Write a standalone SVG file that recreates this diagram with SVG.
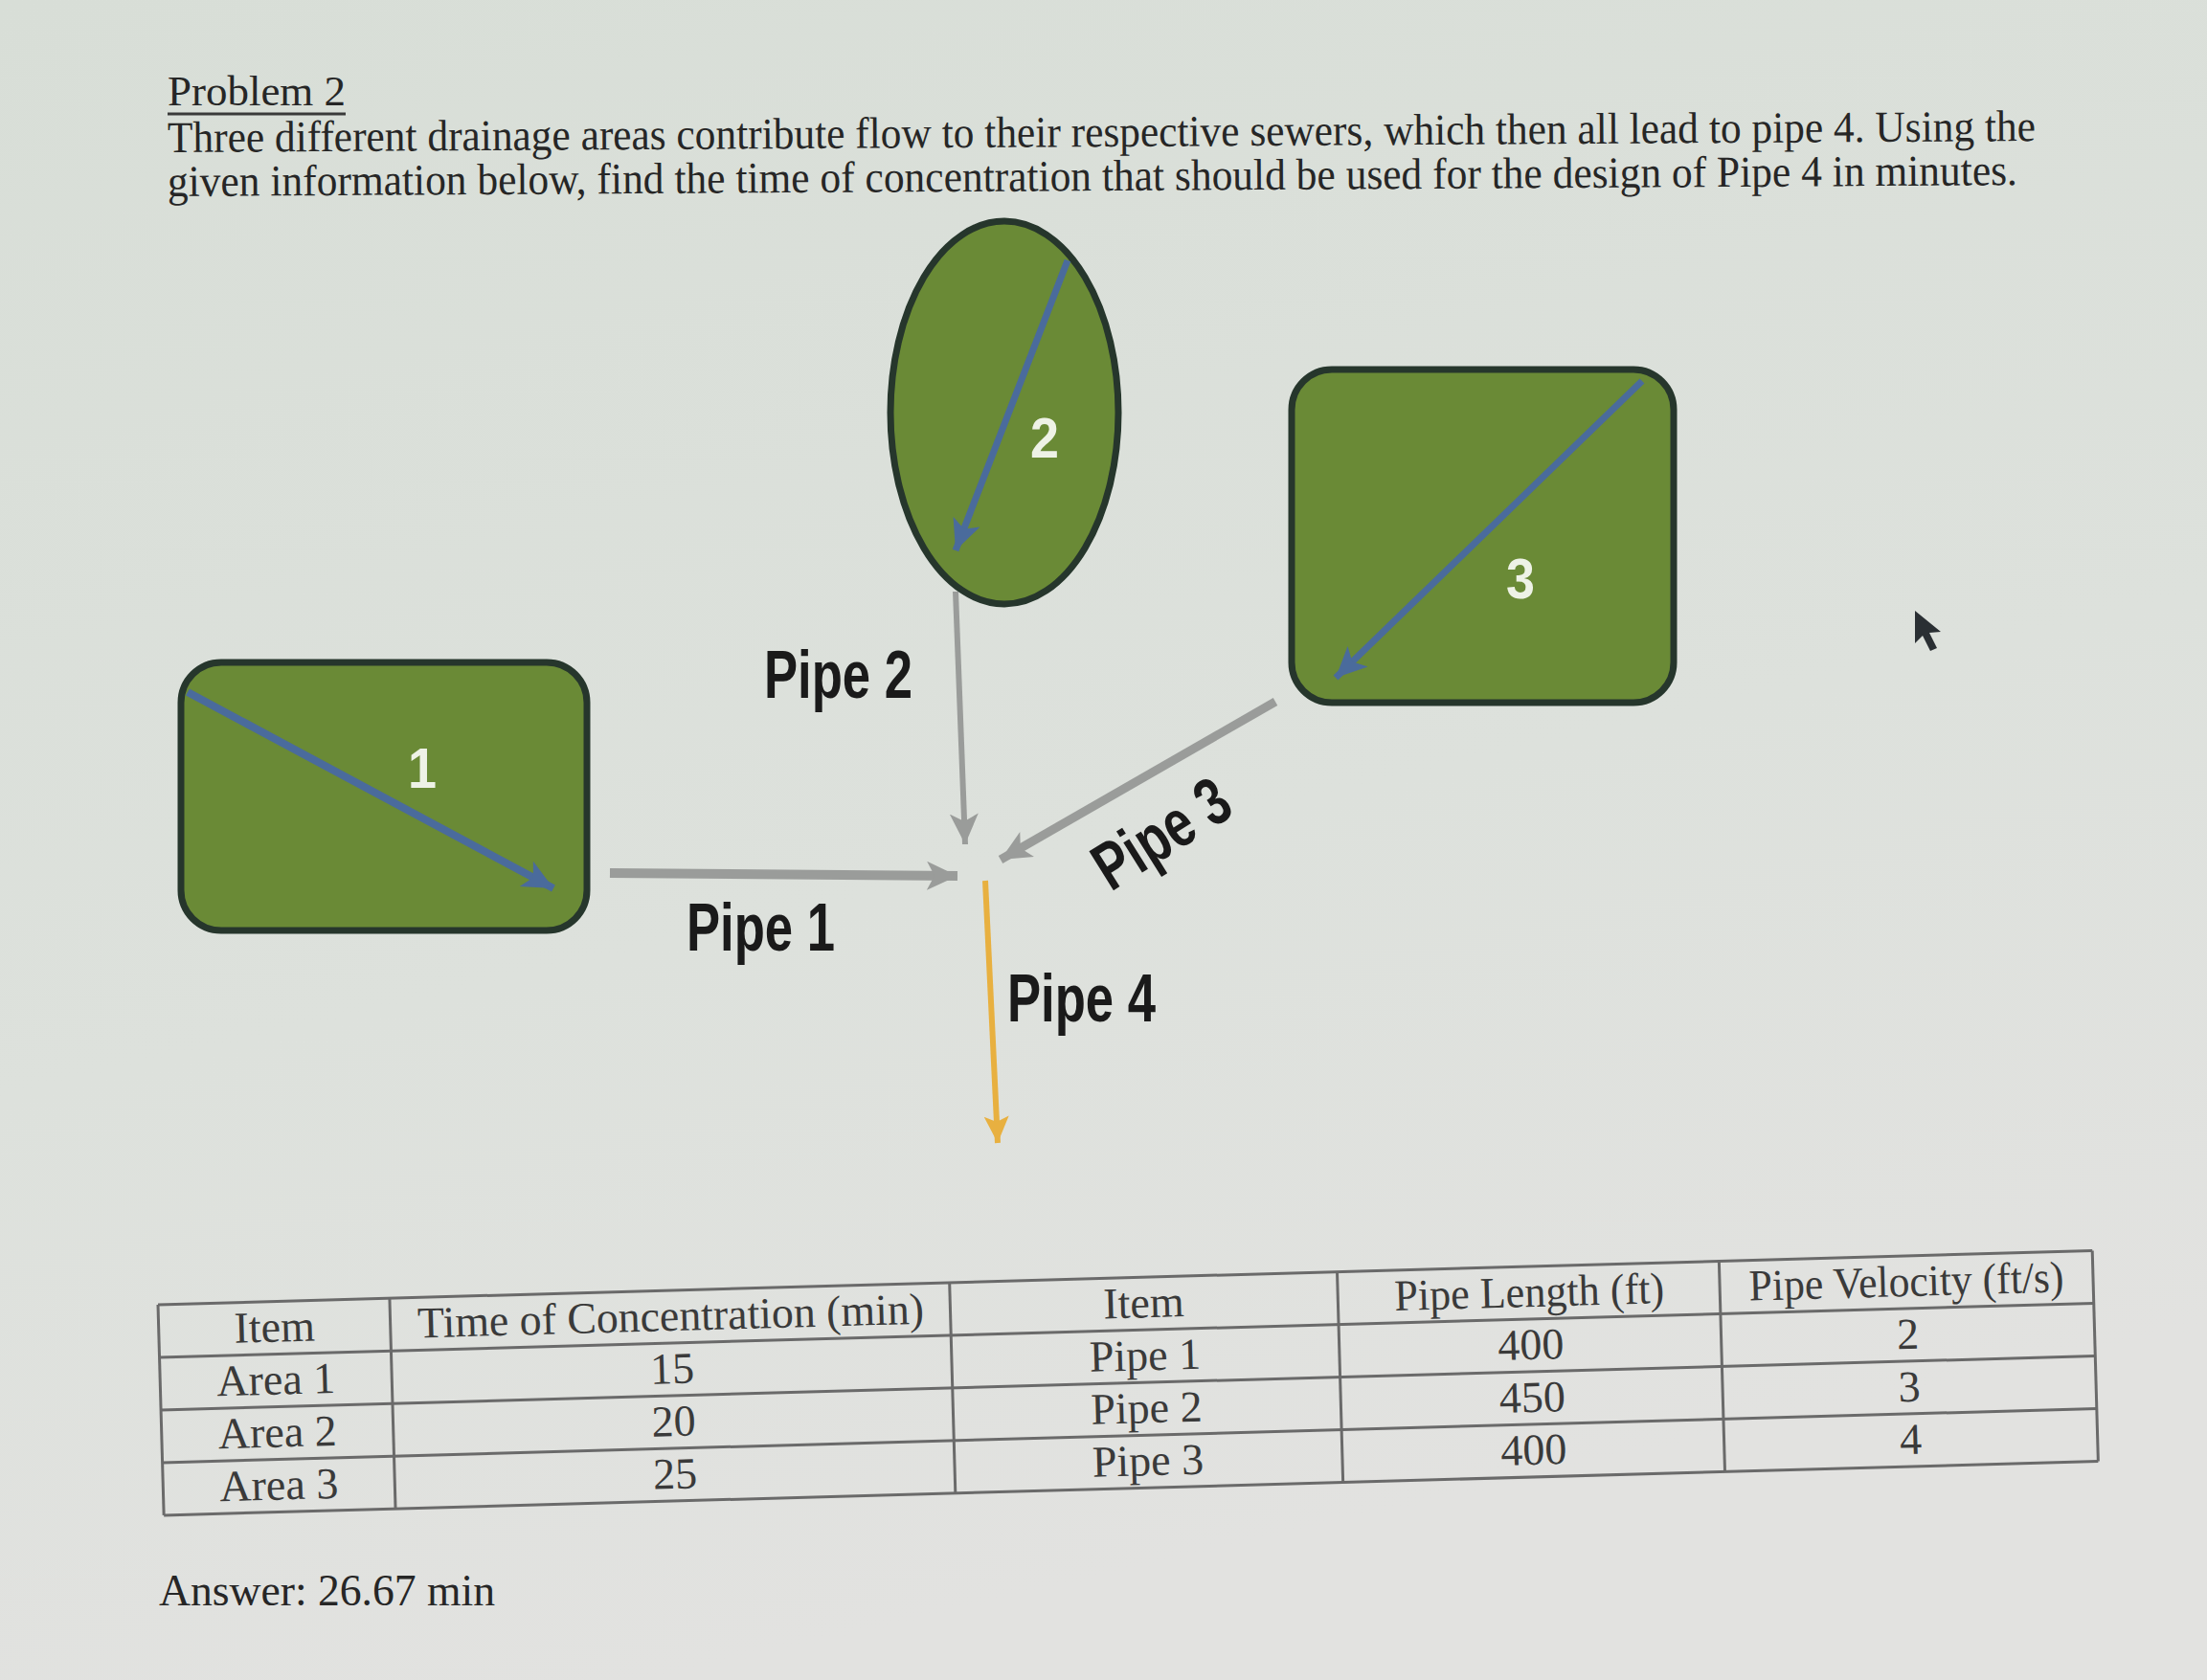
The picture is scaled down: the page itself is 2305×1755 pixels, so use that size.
<svg xmlns="http://www.w3.org/2000/svg" width="2305" height="1755" viewBox="0 0 2305 1755">
<style>
.serif{font-family:"Liberation Serif","Times New Roman",serif;fill:#262626}
.lbl{font-family:"Liberation Sans",Arial,sans-serif;fill:#1a1a1a;font-size:70px;font-weight:bold}
.num{font-family:"Liberation Sans",Arial,sans-serif;fill:#eef2e6;font-size:60px;font-weight:bold;text-anchor:middle}
.area{fill:#6a8a36;stroke:#26362c;stroke-width:7}
.tbl line{stroke:#6a6a6a;stroke-width:3}
.tt{font-family:"Liberation Serif","Times New Roman",serif;fill:#3a3a3a;font-size:46px;text-anchor:middle}
</style>
<defs>
<linearGradient id="bg" x1="0" y1="0" x2="0.3" y2="1">
<stop offset="0" stop-color="#d8ded7"/>
<stop offset="0.6" stop-color="#dde1dc"/>
<stop offset="1" stop-color="#e2e2e0"/>
</linearGradient>
<marker id="mBlue" markerUnits="userSpaceOnUse" markerWidth="40" markerHeight="40" refX="32" refY="15" orient="auto"><path d="M0,0 L32,15 L0,30 L8,15 Z" fill="#4a6b9c"/></marker>
<marker id="mGrey" markerUnits="userSpaceOnUse" markerWidth="40" markerHeight="40" refX="32" refY="15" orient="auto"><path d="M0,0 L32,15 L0,30 L8,15 Z" fill="#9a9c9a"/></marker>
<marker id="mOrange" markerUnits="userSpaceOnUse" markerWidth="40" markerHeight="40" refX="28" refY="13" orient="auto"><path d="M0,0 L28,13 L0,26 L6,13 Z" fill="#e8b040"/></marker>
</defs>
<rect width="2305" height="1755" fill="url(#bg)"/>

<g id="title">
<text class="serif" x="175" y="110" font-size="44" textLength="186" lengthAdjust="spacingAndGlyphs">Problem 2</text>
<line x1="175" y1="119" x2="361" y2="119" stroke="#3a3a3a" stroke-width="3"/>
<text class="serif" x="175" y="159" font-size="46" textLength="1951" lengthAdjust="spacingAndGlyphs" transform="rotate(-0.35 175 159)">Three different drainage areas contribute flow to their respective sewers, which then all lead to pipe 4. Using the</text>
<text class="serif" x="175" y="205" font-size="46" textLength="1932" lengthAdjust="spacingAndGlyphs" transform="rotate(-0.35 175 205)">given information below, find the time of concentration that should be used for the design of Pipe 4 in minutes.</text>
</g>

<g id="area1">
<rect class="area" x="189" y="692" width="424" height="280" rx="42"/>
<text class="num" x="441" y="823" textLength="30" lengthAdjust="spacingAndGlyphs">1</text>
</g>
<g id="area2">
<ellipse class="area" cx="1049" cy="431" rx="119" ry="200"/>
<text class="num" x="1091" y="478" textLength="30" lengthAdjust="spacingAndGlyphs">2</text>
</g>
<g id="area3">
<rect class="area" x="1349" y="386" width="399" height="348" rx="42"/>
<text class="num" x="1588" y="625" textLength="30" lengthAdjust="spacingAndGlyphs">3</text>
</g>

<g id="connectors">
<line x1="196" y1="723" x2="578" y2="928" stroke="#4a6b9c" stroke-width="8" marker-end="url(#mBlue)"/>
<line x1="1115" y1="272" x2="998" y2="575" stroke="#4a6b9c" stroke-width="7" marker-end="url(#mBlue)"/>
<line x1="1715" y1="398" x2="1395" y2="708" stroke="#4a6b9c" stroke-width="7" marker-end="url(#mBlue)"/>
<line x1="637" y1="912" x2="1000" y2="915" stroke="#9a9c9a" stroke-width="10" marker-end="url(#mGrey)"/>
<line x1="998" y1="618" x2="1008" y2="882" stroke="#9a9c9a" stroke-width="6" marker-end="url(#mGrey)"/>
<line x1="1332" y1="733" x2="1045" y2="898" stroke="#9a9c9a" stroke-width="9" marker-end="url(#mGrey)"/>
<line x1="1029" y1="920" x2="1042" y2="1194" stroke="#e8b040" stroke-width="6" marker-end="url(#mOrange)"/>
</g>

<g id="pipe-labels">
<text class="lbl" x="798" y="729" textLength="155" lengthAdjust="spacingAndGlyphs">Pipe 2</text>
<text class="lbl" x="717" y="993" textLength="155" lengthAdjust="spacingAndGlyphs">Pipe 1</text>
<text class="lbl" x="1052" y="1067" textLength="155" lengthAdjust="spacingAndGlyphs">Pipe 4</text>
<text class="lbl" x="1160" y="932" textLength="155" lengthAdjust="spacingAndGlyphs" transform="rotate(-32 1160 932)">Pipe 3</text>
</g>

<g id="cursor">
<path d="M2000,638 L2000,672 L2008,664 L2016,680 L2023,677 L2015,661 L2027,660 Z" fill="#2a2f33"/>
</g>

<g id="table" class="tbl" transform="rotate(-1.6 165 1363)">
<line x1="165" y1="1363" x2="2186" y2="1363"/>
<line x1="165" y1="1418" x2="2186" y2="1418"/>
<line x1="165" y1="1473" x2="2186" y2="1473"/>
<line x1="165" y1="1528" x2="2186" y2="1528"/>
<line x1="165" y1="1583" x2="2186" y2="1583"/>
<line x1="165" y1="1363" x2="165" y2="1583"/>
<line x1="407" y1="1363" x2="407" y2="1583"/>
<line x1="992" y1="1363" x2="992" y2="1583"/>
<line x1="1397" y1="1363" x2="1397" y2="1583"/>
<line x1="1796" y1="1363" x2="1796" y2="1583"/>
<line x1="2186" y1="1363" x2="2186" y2="1583"/>
<text class="tt" x="286" y="1405">Item</text>
<text class="tt" x="700" y="1405" textLength="529" lengthAdjust="spacingAndGlyphs">Time of Concentration (min)</text>
<text class="tt" x="1194" y="1405">Item</text>
<text class="tt" x="1597" y="1405" textLength="282" lengthAdjust="spacingAndGlyphs">Pipe Length (ft)</text>
<text class="tt" x="1991" y="1405" textLength="329" lengthAdjust="spacingAndGlyphs">Pipe Velocity (ft/s)</text>
<text class="tt" x="286" y="1460">Area 1</text>
<text class="tt" x="700" y="1460">15</text>
<text class="tt" x="1194" y="1460">Pipe 1</text>
<text class="tt" x="1597" y="1460">400</text>
<text class="tt" x="1991" y="1460">2</text>
<text class="tt" x="286" y="1515">Area 2</text>
<text class="tt" x="700" y="1515">20</text>
<text class="tt" x="1194" y="1515">Pipe 2</text>
<text class="tt" x="1597" y="1515">450</text>
<text class="tt" x="1991" y="1515">3</text>
<text class="tt" x="286" y="1570">Area 3</text>
<text class="tt" x="700" y="1570">25</text>
<text class="tt" x="1194" y="1570">Pipe 3</text>
<text class="tt" x="1597" y="1570">400</text>
<text class="tt" x="1991" y="1570">4</text>
</g>

<g id="answer">
<text class="serif" x="166" y="1677" font-size="46" fill="#3a3a3a" textLength="351" lengthAdjust="spacingAndGlyphs">Answer: 26.67 min</text>
</g>
</svg>
